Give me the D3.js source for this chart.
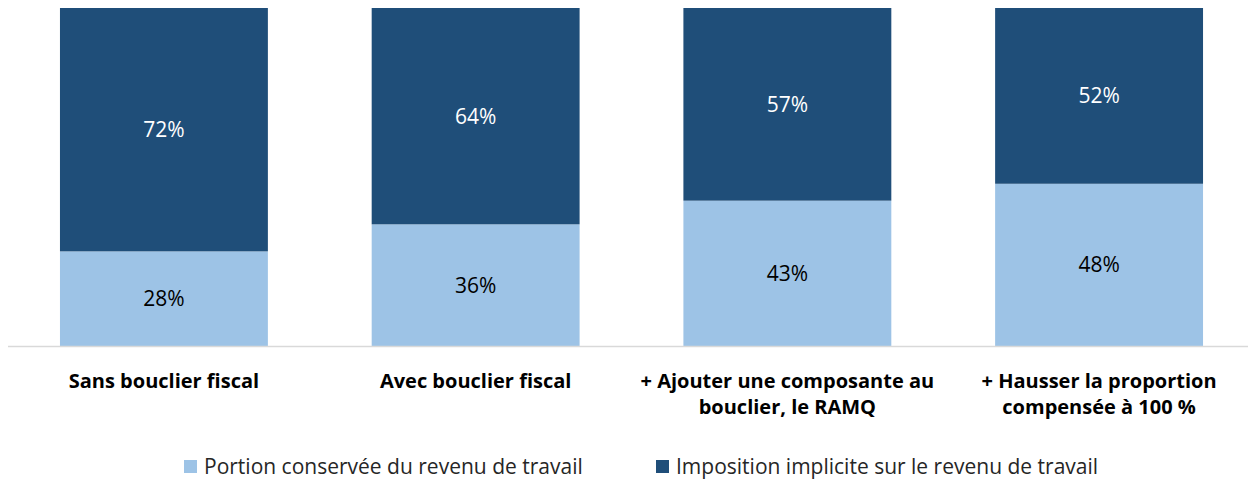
<!DOCTYPE html>
<html>
<head>
<meta charset="utf-8">
<script src="https://cdn.jsdelivr.net/npm/d3@7"></script>
<style>
  body { margin: 0; background: #fff; }
  text { font-family: "Open Sans", Lato, sans-serif; }
</style>
</head>
<body>
<script>
var categories = [
  ["Sans bouclier fiscal"],
  ["Avec bouclier fiscal"],
  ["+ Ajouter une composante au", "bouclier, le RAMQ"],
  ["+ Hausser la proportion", "compensée à 100 %"]
];
var conserved = [28, 36, 43, 48];
var imposition = [72, 64, 57, 52];
var seriesNames = ["Portion conservée du revenu de travail", "Imposition implicite sur le revenu de travail"];
var colors = ["#9DC3E6", "#1F4E79"];

var svg = d3.select("body").append("svg")
    .attr("width", 1248).attr("height", 479);

var x = d3.scaleBand().domain(d3.range(categories.length))
    .range([8, 1255]).paddingInner(0.333).paddingOuter(0.1667);
var y = d3.scaleLinear().domain([0, 100]).range([346, 8]);

var rows = categories.map(function(c, i){
  return {i: i, a: conserved[i], b: imposition[i]};
});
var stack = d3.stack().keys(["a", "b"])(rows);

var layers = svg.append("g").selectAll("g")
    .data(stack).enter().append("g")
    .attr("fill", function(d, k){ return colors[k]; });

layers.selectAll("rect")
    .data(function(d){ return d; })
    .enter().append("rect")
    .attr("x", function(d){ return x(d.data.i); })
    .attr("width", x.bandwidth())
    .attr("y", function(d){ return y(d[1]); })
    .attr("height", function(d){ return y(d[0]) - y(d[1]); });

layers.selectAll("text")
    .data(function(d, k){ return d.map(function(p){ return {p: p, k: k}; }); })
    .enter().append("text")
    .attr("x", function(d){ return x(d.p.data.i) + x.bandwidth() / 2; })
    .attr("y", function(d){ return (y(d.p[0]) + y(d.p[1])) / 2; })
    .attr("dy", "0.35em")
    .attr("text-anchor", "middle")
    .style("font-size", "21px")
    .style("fill", function(d){ return d.k === 0 ? "#000" : "#fff"; })
    .text(function(d){ return (d.p[1] - d.p[0]) + "%"; });

// axis line
svg.append("line")
    .attr("x1", 8).attr("x2", 1248)
    .attr("y1", 346.5).attr("y2", 346.5)
    .attr("stroke", "#D9D9D9").attr("stroke-width", 1.5);

// category labels
var cat = svg.append("g").selectAll("text")
    .data(categories).enter().append("text")
    .attr("text-anchor", "middle")
    .style("font-size", "20px")
    .style("font-weight", "700")
    .attr("y", 388);
cat.selectAll("tspan")
    .data(function(d, i){ return d.map(function(s){ return {s: s, i: i}; }); })
    .enter().append("tspan")
    .attr("x", function(d){ return x(d.i) + x.bandwidth() / 2; })
    .attr("dy", function(d, j){ return j === 0 ? 0 : 26; })
    .text(function(d){ return d.s; });

// legend
var legendX = [184, 656];
var lg = svg.append("g").selectAll("g")
    .data(seriesNames).enter().append("g")
    .attr("transform", function(d, k){ return "translate(" + legendX[k] + ",460)"; });
lg.append("rect")
    .attr("width", 13).attr("height", 13)
    .attr("fill", function(d, k){ return colors[k]; });
lg.append("text")
    .attr("x", 20).attr("y", 6.5).attr("dy", "0.35em")
    .style("font-size", "21px")
    .style("fill", "#262626")
    .text(function(d){ return d; });
</script>
</body>
</html>
